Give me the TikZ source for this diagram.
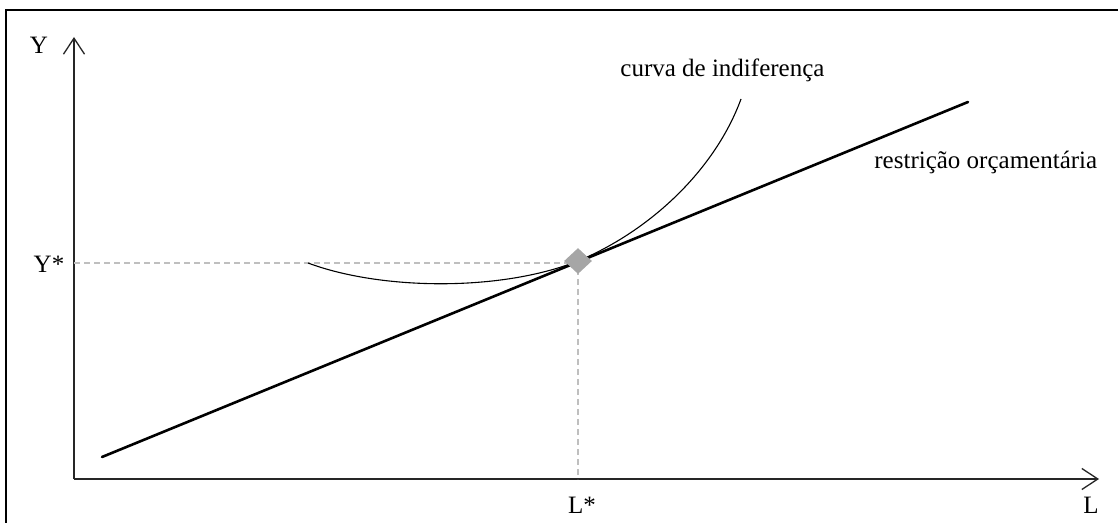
\documentclass[tikz,border=0pt]{standalone}
\usepackage{fontspec}
\setmainfont{Liberation Serif}
\usetikzlibrary{arrows.meta,shapes.geometric}
\begin{document}
\begin{tikzpicture}[x=0.5pt,y=-0.5pt,
  frameline/.style={line width=0.8pt,black},
  axisline/.style={line width=0.65pt,black!85,-{Straight Barb[length=8pt,width=10.5pt,line width=0.65pt]}},
  guide/.style={line width=0.65pt,black!25,dash pattern=on 3pt off 2pt},
  budget/.style={line width=1.3pt,black,line cap=round},
  indiff/.style={line width=0.55pt,black},
  lbl/.style={font=\fontsize{12.5pt}{14pt}\selectfont,inner sep=0pt},
  optimum/.style={diamond,fill=black!35,draw=none,minimum width=14pt,minimum height=13pt,inner sep=0pt}]
\useasboundingbox (0,0) rectangle (1118,523);
% frame
\coordinate (ftl) at (6,10);
\coordinate (ftr) at (1118,10);
\coordinate (fbl) at (6,523);
\draw[frameline] (ftr) -- (ftl) -- (fbl);
% axes
\coordinate (O) at (74,479);
\coordinate (ytip) at (74,37);
\coordinate (xtip) at (1099,479);
\draw[axisline] (O) -- (ytip);
\draw[axisline] (O) -- (xtip);
\node[lbl] (ylab) at (39,45) {Y};
\node[lbl] (xlab) at (1091,505) {L};
% guides
\coordinate (ystar) at (74,263);
\coordinate (corner) at (578,263);
\coordinate (lstar) at (578,479);
\draw[guide] (ystar) -- (corner) -- (lstar);
\node[lbl] (ystarlab) at (49,264) {Y*};
\node[lbl] (lstarlab) at (582,505) {L*};
% budget line
\coordinate (b1) at (102,457);
\coordinate (b2) at (968,102);
\draw[budget] (b1) -- (b2);
% indifference curve
\coordinate (c1) at (308,263);
\coordinate (c2) at (578,261);
\coordinate (c3) at (741,99);
\draw[indiff] (c1) .. controls (380,290) and (500,292) .. (c2)
  .. controls (650,231) and (715,170) .. (c3);
% optimum
\node[optimum] (opt) at (578,261) {};
% labels
\node[lbl,anchor=west] (cilab) at (620,70) {curva de indiferença};
\node[lbl,anchor=west] (bclab) at (874,162) {restrição orçamentária};
\end{tikzpicture}
\end{document}
